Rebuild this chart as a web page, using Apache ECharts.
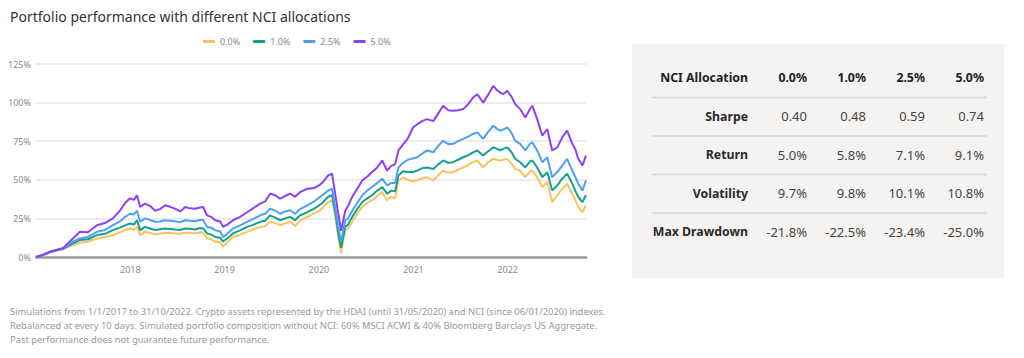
<!DOCTYPE html>
<html><head><meta charset="utf-8">
<script src="https://cdn.jsdelivr.net/npm/echarts@6/dist/echarts.min.js"></script>
<style>html,body{margin:0;padding:0;background:#fff}#c{width:1024px;height:358px}</style>
</head><body><div id="c"></div>
<script>
const titleText = 'Portfolio performance with different NCI allocations';
const seriesNames = ['0.0%', '1.0%', '2.5%', '5.0%'];
const dates = ['2017-01-02','2017-01-28','2017-02-24','2017-03-19','2017-04-16','2017-05-05','2017-05-24','2017-06-20','2017-07-21','2017-08-25','2017-09-25','2017-10-26','2017-11-22','2017-12-12','2017-12-31','2018-01-15','2018-01-27','2018-02-08','2018-02-27','2018-03-19','2018-04-07','2018-04-26','2018-05-16','2018-06-04','2018-06-23','2018-07-13','2018-08-01','2018-08-20','2018-09-09','2018-09-28','2018-10-10','2018-10-25','2018-11-10','2018-11-25','2018-12-15','2018-12-26','2019-01-11','2019-02-03','2019-03-02','2019-03-29','2019-04-21','2019-05-19','2019-06-07','2019-06-26','2019-07-16','2019-08-04','2019-08-23','2019-09-12','2019-10-01','2019-10-20','2019-11-17','2019-12-10','2019-12-29','2020-01-14','2020-02-06','2020-02-21','2020-03-04','2020-03-16','2020-03-27','2020-04-12','2020-04-23','2020-05-09','2020-05-28','2020-06-17','2020-07-06','2020-07-25','2020-08-14','2020-09-02','2020-09-21','2020-10-07','2020-10-22','2020-11-04','2020-11-22','2020-12-11','2020-12-31','2021-01-16','2021-02-04','2021-02-23','2021-03-19','2021-04-07','2021-04-26','2021-05-16','2021-06-04','2021-06-23','2021-07-13','2021-08-01','2021-08-20','2021-09-05','2021-09-28','2021-10-17','2021-11-06','2021-11-21','2021-12-03','2021-12-14','2021-12-30','2022-01-15','2022-01-30','2022-02-18','2022-03-10','2022-03-29','2022-04-06','2022-04-25','2022-05-15','2022-06-03','2022-06-22','2022-07-12','2022-07-31','2022-08-19','2022-09-08','2022-09-19','2022-10-01','2022-10-17','2022-10-31'];
const alloc00 = [0,1.2,3,4,5,6.5,7.7,9.2,10,12,13,14.2,16,17.5,18.5,17.5,19.5,14.2,16.3,15.5,14.8,15.2,15.7,15.5,15.3,15,15.7,15.7,15.3,16,15.7,12,11.5,10,9.5,6.7,9.5,13,14.5,16.3,17.8,19.5,20,22.8,22,20.6,21.8,22.8,20,23.5,26,28,29.5,31.5,35.6,36.7,27,13,2.5,17.4,18.5,22.8,28,32.4,35,36.7,39.5,42,36.7,39,38,49.6,51.5,50,49,49.6,51,51.7,49.6,53,56,54.5,55,56.5,58,59.5,61.4,62.5,58,61.5,63.6,62.8,62.5,63,63.6,60.5,57,56,51.7,55.5,56,51.7,45.3,48.5,35.6,40,44.2,47.5,41,37,32.4,29,33.5];
const alloc10 = [0,1.3,3,4.2,5.3,7,8.8,11,11.5,14.2,15,17.4,19,20.5,21.7,21,23.8,17.4,19.5,18.5,17.4,18,18.5,18.2,17.8,17.5,18.5,18.3,17.8,18.8,18.5,15.3,14.5,13,12.5,10,12,15.3,17.2,19.5,20.8,22.8,23.5,27,25.5,23.8,25,26,23.8,27,29,31,33,35,39,40,29,15.3,6,19.5,21,26,31,35.6,38,40,43,45.3,41,43,42.5,52.8,55.5,55,55,56,57.5,58,57,60,62.5,61,61.4,63,64.6,66,67.8,69,65.7,68.5,71,70,69,70,71,68,63.6,61.4,58,62,62.5,58,51.7,55,43,46.4,50.7,54,47.5,43,39,35.6,40];
const alloc25 = [0,1.4,3.2,4.3,5.5,7.5,10,12,13,16.3,17.5,20.6,23,26,28,27.5,30,22.8,25,24,22.8,23,23.8,23.5,23.2,22.5,23.8,23.5,23.2,24,24,19.5,19,17.4,16.5,13,15,18.5,20.5,22.8,24.5,27,28,31.3,30,28,29.5,30.3,28,31,33.5,35.5,38,40,43,44.2,32.4,19.5,10,23.8,25,30,35,40,43,45.3,48,50.7,46.4,48,48,58,61,63,64,64.6,67,69,67.8,72,75.4,73,73.3,75,76.5,78,79.7,80.7,76.5,81,85,83,81.8,82.5,84,80.5,75.4,73.3,69,73.5,74.3,69,61.4,64.6,51.7,55,59.2,63.6,56,52,47.5,43,49.6];
const alloc50 = [0,1.5,3.4,4.5,5.8,9,12,16.3,16,20.6,22,25,30,35,38,37,40,32.4,34.6,33,30,31,33.5,32.5,31.3,29.5,32.4,31.5,31.3,32,32.4,27,26,23.8,23,19.5,21,23.8,26,29,31.5,34.6,36,41,40,37.8,39.5,41,39,42,44.2,44.5,46,48,52.8,54,41,28,17,30,33,39,44,49.6,52,55,58,62.5,56,59,60,69,73,77,84,86,88,89.3,88,93,98,95,94.7,95,95.8,99,103.3,105.4,100,105,110.8,108,106.5,105.4,107.6,104,99,95.8,90.4,96,98,89.3,78.6,82.9,69,71,77.5,81.8,73.3,70,63.6,59.2,65.7];
const yTicks = [0, 25, 50, 75, 100, 125];
const xStart = '2017-01-01';
const xEnd = '2022-10-31';
const tableHeader = ['NCI Allocation', '0.0%', '1.0%', '2.5%', '5.0%'];
const rowLabels = ['Sharpe', 'Return', 'Volatility', 'Max Drawdown'];
const sharpeVals = ['0.40', '0.48', '0.59', '0.74'];
const returnVals = ['5.0%', '5.8%', '7.1%', '9.1%'];
const volatilityVals = ['9.7%', '9.8%', '10.1%', '10.8%'];
const drawdownVals = ['-21.8%', '-22.5%', '-23.4%', '-25.0%'];
const footnotes = [
  'Simulations from 1/1/2017 to 31/10/2022. Crypto assets represented by the HDAI (until 31/05/2020) and NCI (since 06/01/2020) indexes.',
  'Rebalanced at every 10 days. Simulated portfolio composition without NCI: 60% MSCI ACWI & 40% Bloomberg Barclays US Aggregate.',
  'Past performance does not guarantee future performance.'
];

const colors = ['#F7C35C', '#14A08F', '#4DA1F5', '#8C41F2'];
const FONT = '"Noto Sans", "Open Sans", sans-serif';
const allSeries = [alloc00, alloc10, alloc25, alloc50];

const chart = echarts.init(document.getElementById('c'), null, {renderer: 'svg'});

const graphics = [];
const panel = {x: 632, y: 44, w: 372, h: 234};
graphics.push({type: 'rect', z: 0, shape: {x: panel.x, y: panel.y, width: panel.w, height: panel.h}, style: {fill: '#F4F3F1'}});
const rowY0 = 77.7, rowStep = 38.5;
const labelRight = 748;
const colRights = [807, 866, 925, 984];
const rows = [sharpeVals, returnVals, volatilityVals, drawdownVals];
function txt(text, x, y, font, fill, align) {
  return {type: 'text', z: 2, x: x, y: y, style: {text: text, font: font, fill: fill, textAlign: align, textVerticalAlign: 'middle', align: align, verticalAlign: 'middle'}};
}
const boldFont = 'bold 12.3px ' + FONT;
graphics.push(txt(tableHeader[0], labelRight, rowY0, boldFont, '#222', 'right'));
for (let c = 0; c < 4; c++) graphics.push(txt(tableHeader[c + 1], colRights[c], rowY0, boldFont, '#222', 'right'));
for (let r = 0; r < rows.length; r++) {
  const y = rowY0 + rowStep * (r + 1);
  const ly = rowY0 + rowStep * (r + 0.5) + 0.5;
  graphics.push({type: 'line', z: 1, shape: {x1: 652, y1: ly, x2: 987, y2: ly}, style: {stroke: '#D9D8D6', lineWidth: 1.5}});
  graphics.push(txt(rowLabels[r], labelRight, y, boldFont, '#2a2a2a', 'right'));
  for (let c = 0; c < 4; c++) graphics.push(txt(rows[r][c], colRights[c], y, '13px ' + FONT, '#444', 'right'));
}
footnotes.forEach((t, i) => {
  graphics.push({type: 'text', z: 2, x: 10, y: 311 + i * 14, style: {text: t, font: '9.4px ' + FONT, fill: '#9a9a9a', textAlign: 'left', textVerticalAlign: 'middle', align: 'left', verticalAlign: 'middle'}});
});

const option = {
  animation: false,
  backgroundColor: '#fff',
  color: colors,
  title: {text: titleText, left: 10, top: 9, padding: 0, textStyle: {fontFamily: FONT, fontSize: 14, fontWeight: 'normal', color: '#333'}},
  legend: {
    data: seriesNames, left: 203, top: 37, padding: 0, icon: 'rect', itemWidth: 12, itemHeight: 3, itemGap: 13,
    textStyle: {fontFamily: FONT, fontSize: 9, color: '#8a8a8a'}
  },
  grid: {left: 36, right: 438, top: 64, bottom: 101, containLabel: false},
  xAxis: {
    type: 'time', min: xStart, max: xEnd,
    axisLine: {show: true, lineStyle: {color: '#9a9a9a', width: 2.5}},
    axisTick: {show: false},
    splitLine: {show: false},
    axisLabel: {
      margin: 8, fontFamily: FONT, fontSize: 9, color: '#8a8a8a', hideOverlap: false,
      formatter: function (v) {
        const d = new Date(v);
        return (d.getMonth() === 0 && d.getDate() === 1 && d.getFullYear() > 2017) ? String(d.getFullYear()) : '';
      }
    }
  },
  yAxis: {
    type: 'value', min: yTicks[0], max: yTicks[yTicks.length - 1], interval: yTicks[1] - yTicks[0],
    axisLine: {show: false}, axisTick: {show: false},
    splitLine: {lineStyle: {color: '#E6E6E6', width: 1.5}},
    axisLabel: {margin: 5, fontFamily: FONT, fontSize: 9, color: '#8a8a8a', formatter: '{value}%'}
  },
  series: seriesNames.map((n, i) => ({
    name: n, type: 'line', showSymbol: false, symbol: 'none',
    lineStyle: {width: 2, color: colors[i]}, itemStyle: {color: colors[i]},
    data: dates.map((d, k) => [d, allSeries[i][k]])
  })),
  graphic: graphics
};
chart.setOption(option);
</script>
</body></html>
